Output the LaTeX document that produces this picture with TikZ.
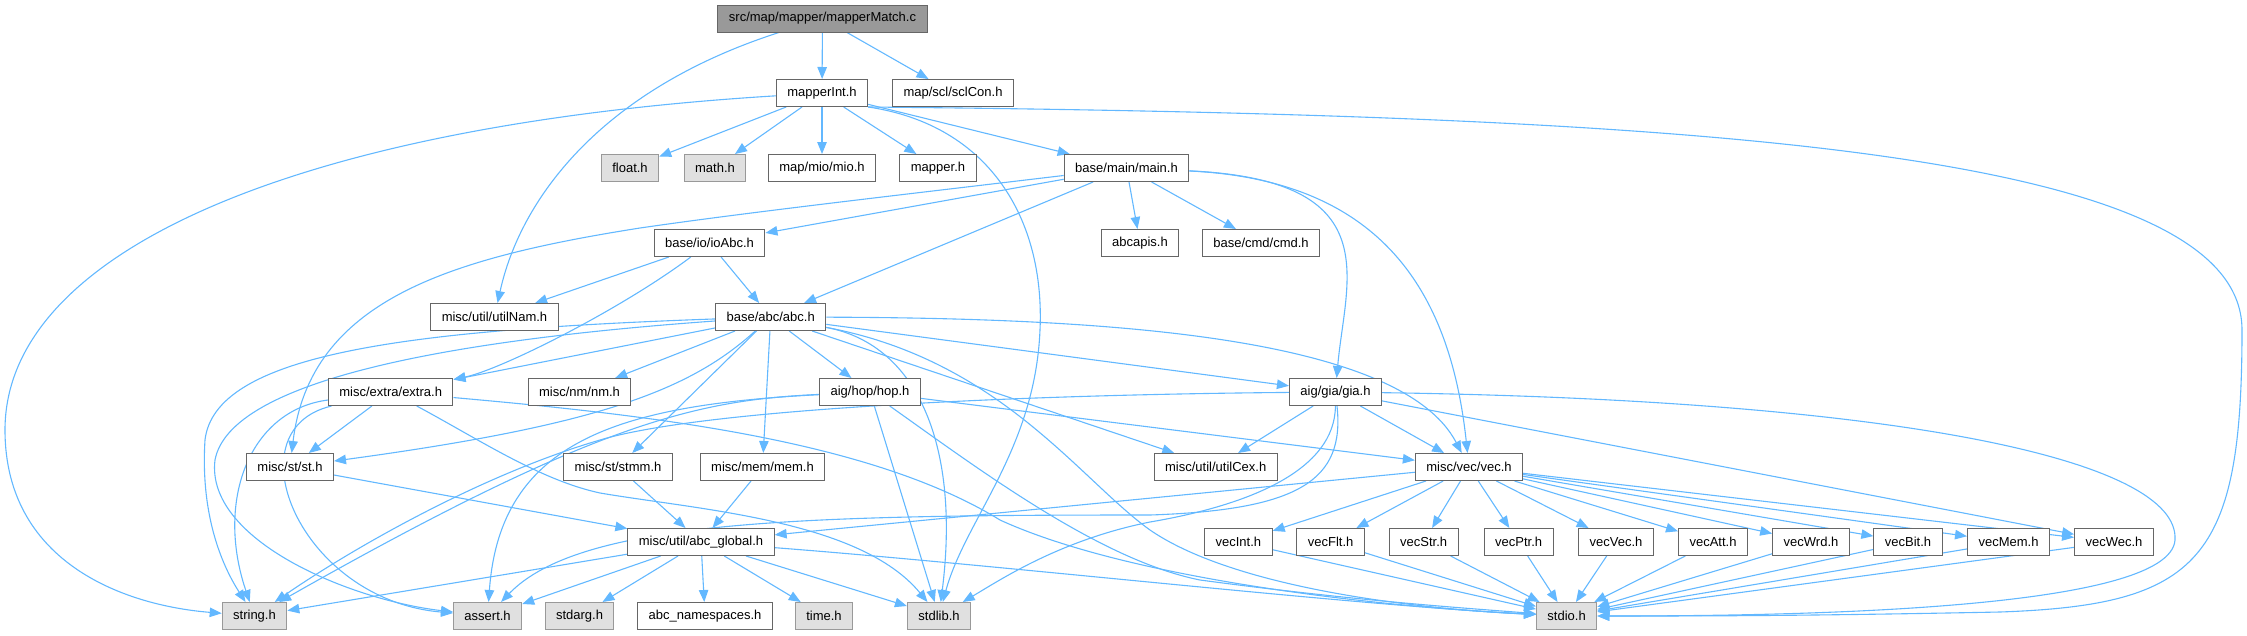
\documentclass[tikz,border=0pt]{standalone}
\usepackage{fontspec}
\setmainfont{Liberation Sans}
\usepackage{tikz}
\usetikzlibrary{arrows.meta}
\usetikzlibrary{backgrounds}
\usepackage{xcolor}
\definecolor{edgeblue}{HTML}{63B8FF}
\definecolor{boxline}{HTML}{666666}
\definecolor{sysline}{HTML}{999999}
\definecolor{sysfill}{HTML}{E0E0E0}
\definecolor{rootfill}{HTML}{999999}

\begin{document}
\begin{tikzpicture}[x = 1pt, y = -1pt,
    file/.style = {draw = boxline, line width = 1pt, fill = white, minimum height = 27pt,
        inner xsep = 11pt, inner ysep = 0pt, font = \fontsize{13}{15}\selectfont},
    sysfile/.style = {file, draw = sysline, fill = sysfill},
    rootfile/.style = {file, fill = rootfill},
    inc/.style = {draw = edgeblue, line width = 1.1pt, -{Triangle[length = 12pt, width = 9.5pt]}}]
    \useasboundingbox (0,0) rectangle (2247,635);

    \node[rootfile] (mm) at (822.5,18.5) {src/map/mapper/mapperMatch.c};
    \node[file] (mInt) at (822,93) {mapperInt.h};
    \node[file] (scl) at (953,93) {map/scl/sclCon.h};

    \node[sysfile] (float) at (630,168) {float.h};
    \node[sysfile] (math) at (715,168) {math.h};
    \node[file] (mio) at (822,168) {map/mio/mio.h};
    \node[file] (mapper) at (938,168) {mapper.h};
    \node[file] (main) at (1126.5,168) {base/main/main.h};

    \node[file] (ioAbc) at (709.5,243) {base/io/ioAbc.h};
    \node[file] (abcapis) at (1140,243) {abcapis.h};
    \node[file] (cmd) at (1261,243) {base/cmd/cmd.h};

    \node[file] (utilNam) at (494.5,317) {misc/util/utilNam.h};
    \node[file] (abc) at (770.7,317) {base/abc/abc.h};

    \node[file] (extra) at (390.7,392) {misc/extra/extra.h};
    \node[file] (nm) at (579.5,392) {misc/nm/nm.h};
    \node[file] (hop) at (870,392) {aig/hop/hop.h};
    \node[file] (gia) at (1335.5,392) {aig/gia/gia.h};

    \node[file] (st) at (290,467) {misc/st/st.h};
    \node[file] (stmm) at (618,467) {misc/st/stmm.h};
    \node[file] (mem) at (762.5,467) {misc/mem/mem.h};
    \node[file] (utilCex) at (1215.7,467) {misc/util/utilCex.h};
    \node[file] (vec) at (1469,467) {misc/vec/vec.h};

    \node[file] (glob) at (701,542) {misc/util/abc\_global.h};
    \foreach \name/\xpos in {vecInt/1238.4, vecFlt/1330.6, vecStr/1423.6, vecPtr/1518.6, vecVec/1616,
        vecAtt/1713, vecWrd/1811, vecBit/1908, vecMem/2008.5, vecWec/2114}
        \node[file] (\name) at (\xpos,542) {\name.h};

    \node[sysfile] (string) at (254.5,616) {string.h};
    \node[sysfile] (assert) at (487.6,616) {assert.h};
    \node[sysfile] (stdarg) at (579.5,616) {stdarg.h};
    \node[file] (ns) at (705,616) {abc\_namespaces.h};
    \node[sysfile] (time) at (824,616) {time.h};
    \node[sysfile] (stdlib) at (939,616) {stdlib.h};
    \node[sysfile] (stdio) at (1566.6,616) {stdio.h};

    \begin{scope}[on background layer]
        % mapperMatch.c
        \draw[inc] (mm) -- (mInt);
        \draw[inc] (mm) -- (scl);
        \draw[inc] (mm) .. controls (600,90) and (520,200) .. (utilNam);

        % mapperInt.h
        \draw[inc] (mInt) .. controls (300,125) and (5,250) .. (5,430) .. controls (5,560) and (120,605) .. (string);
        \foreach \t in {float,math,mio,mapper,main}
            \draw[inc] (mInt) -- (\t);
        \draw[inc] (mInt.south east) .. controls (990,125) and (1045,220) .. (1040,330) .. controls (1035,450) and (965,520) .. (stdlib);
        \draw[inc] (mInt.south east) .. controls (1700,115) and (2242,150) .. (2242,330)
            .. controls (2242,560) and (2200,605) .. (2000,612) .. controls (1800,616) and (1700,616) .. (stdio);

        % main.h
        \draw[inc] (main) .. controls (900,195) and (750,212) .. (640,228) .. controls (450,258) and (310,300) .. (st);
        \foreach \t in {ioAbc,abc,abcapis,cmd}
            \draw[inc] (main) -- (\t);
        \draw[inc] (main) .. controls (1390,180) and (1345,280) .. (gia);
        \draw[inc] (main) .. controls (1380,180) and (1450,290) .. (vec);

        % ioAbc.h
        \draw[inc] (ioAbc) -- (utilNam);
        \draw[inc] (ioAbc) -- (abc);
        \draw[inc] (ioAbc) .. controls (620,310) and (500,370) .. (extra);

        % abc.h
        \draw[inc] (abc) .. controls (400,330) and (215,355) .. (205,440) .. controls (200,520) and (225,570) .. (string);
        \draw[inc] (abc) .. controls (450,340) and (230,380) .. (215,460) .. controls (205,540) and (350,600) .. (assert);
        \foreach \t in {extra,nm,hop,stmm,mem,gia,utilCex}
            \draw[inc] (abc) -- (\t);
        \draw[inc] (abc) .. controls (690,390) and (600,425) .. (st);
        \draw[inc] (abc) .. controls (920,345) and (960,450) .. (stdlib);
        \draw[inc] (abc) .. controls (1000,360) and (1080,480) .. (1150,530) .. controls (1230,585) and (1400,608) .. (stdio);
        \draw[inc] (abc) .. controls (1100,318) and (1400,335) .. (vec);

        % hop.h
        \draw[inc] (hop) .. controls (700,400) and (600,420) .. (string);
        \draw[inc] (hop) .. controls (620,405) and (500,440) .. (assert);
        \draw[inc] (hop) -- (vec);
        \draw[inc] (hop) -- (stdlib);
        \draw[inc] (hop) .. controls (980,470) and (1100,560) .. (1200,580) .. controls (1350,600) and (1450,607) .. (stdio);

        % extra.h
        \draw[inc] (extra) .. controls (250,410) and (215,500) .. (string);
        \draw[inc] (extra) .. controls (230,430) and (300,600) .. (assert);
        \draw[inc] (extra) -- (st);
        \draw[inc] (extra) .. controls (480,440) and (540,480) .. (600,493) .. controls (700,510) and (860,520) .. (stdlib);
        \draw[inc] (extra) .. controls (650,415) and (870,440) .. (1000,520) .. controls (1120,575) and (1350,605) .. (stdio);

        % st.h, stmm.h, mem.h
        \foreach \s in {st,stmm,mem}
            \draw[inc] (\s) -- (glob);

        % abc_global.h
        \foreach \t in {string,assert,stdarg,ns,time,stdlib}
            \draw[inc] (glob) -- (\t);
        \draw[inc] (glob) .. controls (1000,565) and (1350,605) .. (stdio);

        % gia.h
        \draw[inc] (gia) -- (utilCex);
        \draw[inc] (gia) -- (vec);
        \draw[inc] (gia) -- (vecWec);
        \draw[inc] (gia) .. controls (1900,400) and (2180,460) .. (2175,540) .. controls (2170,610) and (1800,616) .. (stdio);
        \draw[inc] (gia) .. controls (1000,395) and (700,410) .. (600,440) .. controls (480,475) and (350,550) .. (string);
        \draw[inc] (gia) .. controls (1345,480) and (1300,510) .. (1150,515) .. controls (800,515) and (580,520) .. (assert);
        \draw[inc] (gia) .. controls (1335,470) and (1250,505) .. (1150,522) .. controls (1060,540) and (1000,580) .. (stdlib);

        % vec.h
        \draw[inc] (vec) -- (glob);
        \foreach \name in {vecInt,vecFlt,vecStr,vecPtr,vecVec,vecAtt,vecWrd,vecBit,vecMem,vecWec} {
            \draw[inc] (vec) -- (\name);
            \draw[inc] (\name) -- (stdio);
        }
    \end{scope}
\end{tikzpicture}
\end{document}
